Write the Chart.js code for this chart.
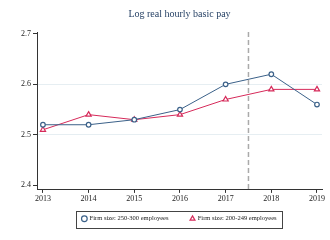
<!DOCTYPE html>
<html>
<head>
<meta charset="utf-8">
<script src="https://cdn.jsdelivr.net/npm/chart.js@4/dist/chart.umd.min.js"></script>
<style>
  html, body { margin: 0; padding: 0; background: #fff; }
  #wrap { width: 330px; height: 240px; }
</style>
</head>
<body>
<div id="wrap"><canvas id="myChart" width="330" height="240"></canvas></div>
<script>
// chart data
const years = [2013, 2014, 2015, 2016, 2017, 2018, 2019];
const big = [2.52, 2.52, 2.53, 2.55, 2.60, 2.62, 2.56];
const small = [2.51, 2.54, 2.53, 2.54, 2.57, 2.59, 2.59];
const yTicks = [2.4, 2.5, 2.6, 2.7];
const cutYear = 2017.5;

const blue = '#3b6189';
const red = '#d62a5a';
const serif = "'Liberation Serif', 'DejaVu Serif', serif";
const legendLift = 11; // legend padding is wide sideways, pull it up under the axis

const extras = {
    id: 'extras',
    beforeLayout(chart) {
        const lg = chart.legend;
        if (lg && !lg._patched) {
            const orig = lg.fit.bind(lg);
            lg.fit = function () { orig(); this.height -= legendLift; };
            lg._patched = true;
        }
    },
    afterLayout(chart) {
        // only move the top so the clip area still holds the items
        chart.legend.top -= legendLift;
    },
    // dashed line at the cut year
    beforeDatasetsDraw(chart) {
        const c = chart.ctx;
        const x = chart.scales.x.getPixelForValue(cutYear);
        c.save();
        c.strokeStyle = '#aaaaaa';
        c.lineWidth = 1.5;
        c.setLineDash([5, 3]);
        c.beginPath();
        c.moveTo(x, chart.chartArea.top);
        c.lineTo(x, chart.chartArea.bottom);
        c.stroke();
        c.restore();
    },
    // box around the legend
    afterDraw(chart) {
        const boxes = chart.legend.legendHitBoxes;
        if (!boxes || !boxes.length) return;
        let l = Infinity, r = -Infinity, t = Infinity, b = -Infinity;
        boxes.forEach(h => {
            l = Math.min(l, h.left); r = Math.max(r, h.left + h.width);
            t = Math.min(t, h.top); b = Math.max(b, h.top + h.height);
        });
        const c = chart.ctx;
        c.save();
        c.strokeStyle = '#444';
        c.lineWidth = 1;
        c.strokeRect(Math.round(l - 6) + 0.5, Math.round(t - 5) + 0.5, Math.round(r - l + 12), Math.round(b - t + 10));
        c.restore();
    }
};

const ctx = document.getElementById('myChart');

new Chart(ctx, {
    type: 'line',
    data: {
        datasets: [{
            label: 'Firm size: 250-300 employees',
            data: years.map((y, i) => ({x: y, y: big[i]})),
            borderColor: blue,
            backgroundColor: '#ffffff',
            borderWidth: 1,
            pointStyle: 'circle',
            pointRadius: 2.3,
            pointBorderWidth: 1.2,
            pointBorderColor: blue,
            pointBackgroundColor: '#ffffff',
        }, {
            label: 'Firm size: 200-249 employees',
            data: years.map((y, i) => ({x: y, y: small[i]})),
            borderColor: red,
            backgroundColor: '#ffffff',
            borderWidth: 1,
            pointStyle: 'triangle',
            pointRadius: 3,
            pointBorderWidth: 1.2,
            pointBorderColor: red,
            pointBackgroundColor: '#ffffff',
        }]
    },
    options: {
        responsive: false,
        animation: false,
        layout: { padding: { left: 19, right: 8, top: 4, bottom: 8 } },
        plugins: {
            title: {
                display: true,
                text: 'Log real hourly basic pay',
                fullSize: false,
                color: '#1e3a5f',
                font: { family: serif, size: 10, weight: 'normal' },
                padding: { top: 4, bottom: 12 }
            },
            legend: {
                display: true,
                position: 'bottom',
                fullSize: false,
                labels: {
                    usePointStyle: true,
                    boxWidth: 4,
                    boxHeight: 4,
                    padding: 22,
                    color: '#222',
                    font: { family: serif, size: 6.5 }
                }
            },
            tooltip: { enabled: false }
        },
        scales: {
            x: {
                type: 'linear',
                min: 2012.87,
                max: 2019.11,
                afterBuildTicks: s => { s.ticks = years.map(v => ({value: v})); },
                grid: { drawOnChartArea: false, tickLength: 3, tickColor: '#333' },
                border: { color: '#333', width: 1 },
                ticks: {
                    color: '#222',
                    padding: 1,
                    maxRotation: 0,
                    font: { family: serif, size: 8 },
                    callback: v => String(v)
                }
            },
            y: {
                min: 2.391,
                max: 2.7036,
                afterBuildTicks: s => { s.ticks = yTicks.map(v => ({value: v})); },
                grid: {
                    color: c => (c.tick && (c.tick.value === 2.5 || c.tick.value === 2.6)) ? '#e6eef2' : 'rgba(0,0,0,0)',
                    tickLength: 4,
                    tickColor: '#333'
                },
                border: { color: '#333', width: 1 },
                ticks: {
                    color: '#222',
                    padding: 2,
                    font: { family: serif, size: 8 },
                    callback: v => v.toFixed(1)
                }
            }
        }
    },
    plugins: [extras]
});
</script>
</body>
</html>
